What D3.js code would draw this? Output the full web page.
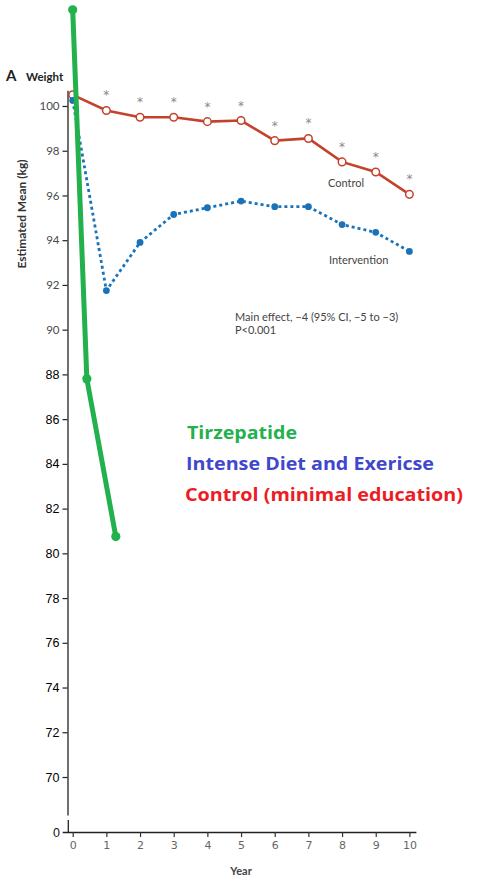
<!DOCTYPE html>
<html>
<head>
<meta charset="utf-8">
<script src="https://cdn.jsdelivr.net/npm/d3@7.9.0/dist/d3.min.js"></script>
<style>
  html, body { margin: 0; padding: 0; background: #fff; }
  svg { display: block; }
</style>
</head>
<body>
<svg id="chart" width="484" height="885"></svg>
<script>
// values
const years = [0, 1, 2, 3, 4, 5, 6, 7, 8, 9, 10];
const controlKg = [100.5, 99.8, 99.5, 99.5, 99.3, 99.35, 98.45, 98.55, 97.5, 97.05, 96.05];
const interventionKg = [100.25, 91.75, 93.9, 95.15, 95.45, 95.75, 95.5, 95.5, 94.7, 94.35, 93.5];
const tirzYears = [0, 0.42, 1.28];
const tirzKg = [104.3, 87.8, 80.75];
const yTicks = [70, 72, 74, 76, 78, 80, 82, 84, 86, 88, 90, 92, 94, 96, 98, 100];
const xTicks = [0, 1, 2, 3, 4, 5, 6, 7, 8, 9, 10];
const legendItems = ['Tirzepatide', 'Intense Diet and Exericse', 'Control (minimal education)'];
const legendColors = ['#22b14c', '#3f48cc', '#ed1c24'];

const svg = d3.select('#chart');

let x = d3.scaleLinear().domain([0, 10]).range([72.7, 409.4]);
let y = d3.scaleLinear().domain([70, 100]).range([777, 106]);

// y axis (drawn a bit past the first/last tick like the original)
let yAxisScale = y.copy().domain([68.3, 100.7]).range([y(68.3), y(100.7)]);
let gy = svg.append('g')
  .attr('transform', 'translate(67.5,0)')
  .call(d3.axisLeft(yAxisScale).tickValues(yTicks).tickSize(5).tickPadding(3).tickSizeOuter(0));
gy.select('.domain').attr('stroke', '#222').attr('stroke-width', 1.3);
gy.selectAll('.tick line').attr('stroke', '#222').attr('stroke-width', 1.2);
gy.selectAll('.tick text')
  .attr('font-family', d => d >= 90 ? 'Lato, sans-serif' : '"Liberation Sans", Arial, sans-serif')
  .attr('font-size', d => d >= 90 ? 11.5 : 12.5)
  .attr('fill', d => d >= 90 ? '#4a4a4a' : '#000');

// x axis
let xAxisY = 832;
let gx = svg.append('g')
  .attr('transform', `translate(0,${xAxisY})`)
  .call(d3.axisBottom(x).tickValues(xTicks).tickSize(5).tickPadding(4).tickSizeOuter(0));
gx.select('.domain').attr('d', `M${x(0) - 10},0.5H${x(10) + 7}`).attr('stroke', '#222').attr('stroke-width', 1.3);
gx.selectAll('.tick line').attr('stroke', '#333').attr('stroke-width', 1.2);
gx.selectAll('.tick text')
  .attr('font-family', '"DejaVu Sans", sans-serif')
  .attr('font-size', 11)
  .attr('fill', '#666');

// axis break near zero
svg.append('line')
  .attr('x1', 68.3).attr('x2', 68.3)
  .attr('y1', xAxisY - 12).attr('y2', xAxisY)
  .attr('stroke', '#222').attr('stroke-width', 1.3);
svg.append('text')
  .attr('x', 60).attr('y', xAxisY + 4.5)
  .attr('text-anchor', 'end')
  .attr('font-family', '"Liberation Sans", Arial, sans-serif')
  .attr('font-size', 12.5).attr('fill', '#111')
  .text('0');

// titles
svg.append('text').attr('x', 6).attr('y', 81)
  .attr('font-family', 'Lato, sans-serif').attr('font-weight', 'bold')
  .attr('font-size', 15).attr('fill', '#222').text('A');
svg.append('text').attr('x', 26).attr('y', 81)
  .attr('font-family', 'Lato, sans-serif').attr('font-weight', 'bold')
  .attr('font-size', 11.5).attr('fill', '#222').text('Weight');
svg.append('text')
  .attr('transform', 'translate(26,214) rotate(-90)')
  .attr('text-anchor', 'middle')
  .attr('font-family', 'Lato, sans-serif').attr('font-weight', 'bold')
  .attr('font-size', 12).attr('fill', '#333')
  .text('Estimated Mean (kg)');
svg.append('text')
  .attr('x', x(5)).attr('y', 875)
  .attr('text-anchor', 'middle')
  .attr('font-family', 'Lato, sans-serif').attr('font-weight', 'bold')
  .attr('font-size', 11).attr('fill', '#444')
  .text('Year');

// control line
let controlColor = '#c4422c';
let controlLine = d3.line().x((d, i) => x(years[i])).y(d => y(d));
svg.append('path')
  .attr('d', controlLine(controlKg))
  .attr('fill', 'none').attr('stroke', controlColor).attr('stroke-width', 2.6);
svg.selectAll('.ctrl-pt').data(controlKg).join('circle')
  .attr('class', 'ctrl-pt')
  .attr('cx', (d, i) => x(years[i])).attr('cy', d => y(d)).attr('r', 3.8)
  .attr('fill', '#fff').attr('stroke', controlColor).attr('stroke-width', 1.5);

// significance asterisks (years 1-10)
svg.selectAll('.star').data(controlKg.slice(1)).join('text')
  .attr('class', 'star')
  .attr('x', (d, i) => x(years[i + 1])).attr('y', d => y(d) - 11)
  .attr('text-anchor', 'middle')
  .attr('font-family', '"DejaVu Sans", sans-serif').attr('font-size', 12)
  .attr('fill', '#888').text('*');

// intervention line
let intColor = '#1a73b9';
svg.append('path')
  .attr('d', controlLine(interventionKg))
  .attr('fill', 'none').attr('stroke', intColor).attr('stroke-width', 2.8)
  .attr('stroke-dasharray', '3,3');
svg.selectAll('.int-pt').data(interventionKg).join('circle')
  .attr('class', 'int-pt')
  .attr('cx', (d, i) => x(years[i])).attr('cy', d => y(d)).attr('r', 3.4)
  .attr('fill', intColor);

// in-plot labels
const noteFont = 'Lato, sans-serif';
svg.append('text').attr('x', 328).attr('y', 187)
  .attr('font-family', noteFont).attr('font-size', 11).attr('fill', '#444').text('Control');
svg.append('text').attr('x', 329).attr('y', 264)
  .attr('font-family', noteFont).attr('font-size', 11).attr('fill', '#444').text('Intervention');
svg.append('text').attr('x', 235).attr('y', 321)
  .attr('font-family', noteFont).attr('font-size', 11).attr('fill', '#444')
  .text('Main effect, \u22124 (95% CI, \u22125 to \u22123)');
svg.append('text').attr('x', 235).attr('y', 334)
  .attr('font-family', noteFont).attr('font-size', 11).attr('fill', '#444').text('P<0.001');

// tirzepatide overlay
let tirzLine = d3.line().x((d, i) => x(tirzYears[i])).y(d => y(d));
svg.append('path')
  .attr('d', tirzLine(tirzKg))
  .attr('fill', 'none').attr('stroke', legendColors[0]).attr('stroke-width', 5)
  .attr('stroke-linejoin', 'round').attr('stroke-linecap', 'round');
svg.selectAll('.tirz-pt').data(tirzKg).join('circle')
  .attr('class', 'tirz-pt')
  .attr('cx', (d, i) => x(tirzYears[i])).attr('cy', d => y(d)).attr('r', 4.6)
  .attr('fill', legendColors[0]);

// legend
const legendWidths = [110, 248, 278];
svg.selectAll('.legend').data(legendItems).join('text')
  .attr('class', 'legend')
  .attr('x', (d, i) => 187 - i)
  .attr('y', (d, i) => 439 + i * 31)
  .attr('font-family', '"Open Sans", sans-serif').attr('font-weight', 'bold')
  .attr('font-size', 18)
  .attr('textLength', (d, i) => legendWidths[i])
  .attr('lengthAdjust', 'spacingAndGlyphs')
  .attr('fill', (d, i) => legendColors[i])
  .text(d => d);
</script>
</body>
</html>
